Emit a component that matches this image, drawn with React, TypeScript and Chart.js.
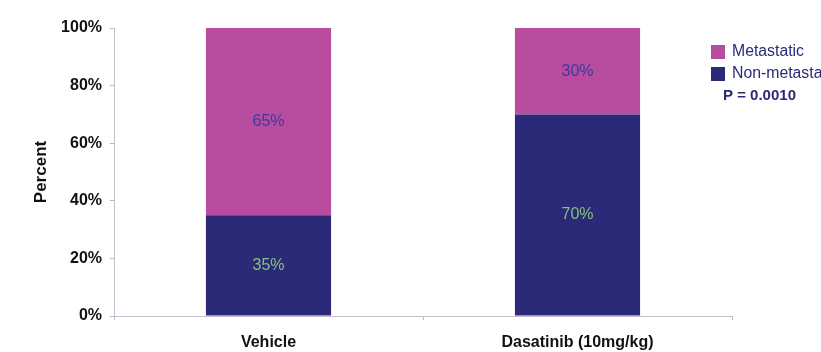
import React, { useEffect, useRef } from "react";
import { Chart, registerables } from "chart.js";

Chart.register(...registerables);

const categories = ["Vehicle", "Dasatinib (10mg/kg)"];
const nonMetastatic = [35, 70];
const metastatic = [65, 30];
const yTicks = [0, 20, 40, 60, 80, 100];
const seriesNames = ["Metastatic", "Non-metastatic"];
const pValueText = "P = 0.0010";

const PINK = "#b84c9e";
const NAVY = "#2b2a78";
const FONT = "'Liberation Sans', Arial, sans-serif";

const overlayPlugin = {
  id: "overlay",
  afterDatasetsDraw(chart: any) {
    const ctx = chart.ctx;
    ctx.save();
    chart.data.datasets.forEach((ds: any, di: number) => {
      const meta = chart.getDatasetMeta(di);
      meta.data.forEach((bar: any, i: number) => {
        const v = ds.data[i];
        const cy = (bar.y + bar.base) / 2;
        ctx.font = `16px ${FONT}`;
        ctx.textAlign = "center";
        ctx.textBaseline = "middle";
        ctx.fillStyle = ds.labelColor;
        ctx.fillText(`${v}%`, bar.x, cy);
      });
    });
    const items = [
      { name: seriesNames[0], color: PINK, y: 52 },
      { name: seriesNames[1], color: NAVY, y: 74 },
    ];
    items.forEach((it) => {
      ctx.fillStyle = it.color;
      ctx.fillRect(711, it.y - 7, 14, 14);
      ctx.font = `15.8px ${FONT}`;
      ctx.textAlign = "left";
      ctx.textBaseline = "middle";
      ctx.fillStyle = NAVY;
      ctx.fillText(it.name, 732, it.y);
    });
    ctx.font = `bold 15px ${FONT}`;
    ctx.fillStyle = NAVY;
    ctx.fillText(pValueText, 723, 96);
    ctx.restore();
  },
};

export default function App() {
  const ref = useRef<HTMLCanvasElement | null>(null);
  useEffect(() => {
    if (!ref.current) return;
    const chart = new Chart(ref.current, {
      type: "bar",
      data: {
        labels: categories,
        datasets: [
          {
            label: seriesNames[1],
            data: nonMetastatic,
            backgroundColor: NAVY,
            borderWidth: 0,
            barPercentage: 0.405,
            categoryPercentage: 1,
            labelColor: "#86c07a",
          } as any,
          {
            label: seriesNames[0],
            data: metastatic,
            backgroundColor: PINK,
            borderWidth: 0,
            barPercentage: 0.405,
            categoryPercentage: 1,
            labelColor: "#3d3a9c",
          } as any,
        ],
      },
      plugins: [overlayPlugin],
      options: {
        animation: false,
        responsive: false,
        maintainAspectRatio: false,
        layout: { padding: { left: 0, right: 89, top: 28, bottom: 0 } },
        plugins: { legend: { display: false }, tooltip: { enabled: false } },
        scales: {
          x: {
            stacked: true,
            grid: {
              display: true,
              drawOnChartArea: false,
              drawTicks: true,
              tickLength: 4,
              color: "#b9b9c9",
              offset: true,
            },
            border: { display: true, color: "#c8bcc8" },
            ticks: {
              color: "#111",
              font: { family: FONT, size: 16, weight: "bold" },
              padding: 13,
              maxRotation: 0,
            },
            afterFit: (s: any) => {
              s.height = 36;
            },
          },
          y: {
            stacked: true,
            min: 0,
            max: 100,
            afterBuildTicks: (s: any) => {
              s.ticks = yTicks.map((v) => ({ value: v }));
            },
            grid: {
              display: true,
              drawOnChartArea: false,
              drawTicks: true,
              tickLength: 4,
              color: "#b9b9c9",
            },
            border: { display: true, color: "#c8bcc8" },
            ticks: {
              color: "#111",
              font: { family: FONT, size: 16, weight: "bold" },
              padding: 8,
              callback: (v: any) => `${v}%`,
            },
            title: {
              display: true,
              text: "Percent",
              color: "#111",
              font: { family: FONT, size: 17, weight: "bold" },
              padding: { top: 31, bottom: 0 },
            },
            afterFit: (s: any) => {
              s.width = 114;
            },
          },
        },
      },
    } as any);
    return () => chart.destroy();
  }, []);
  return (
    <div style={{ position: "absolute", left: 0, top: 0, width: 821, height: 352, background: "#fff" }}>
      <canvas ref={ref} width={821} height={352} style={{ display: "block" }} />
    </div>
  );
}
